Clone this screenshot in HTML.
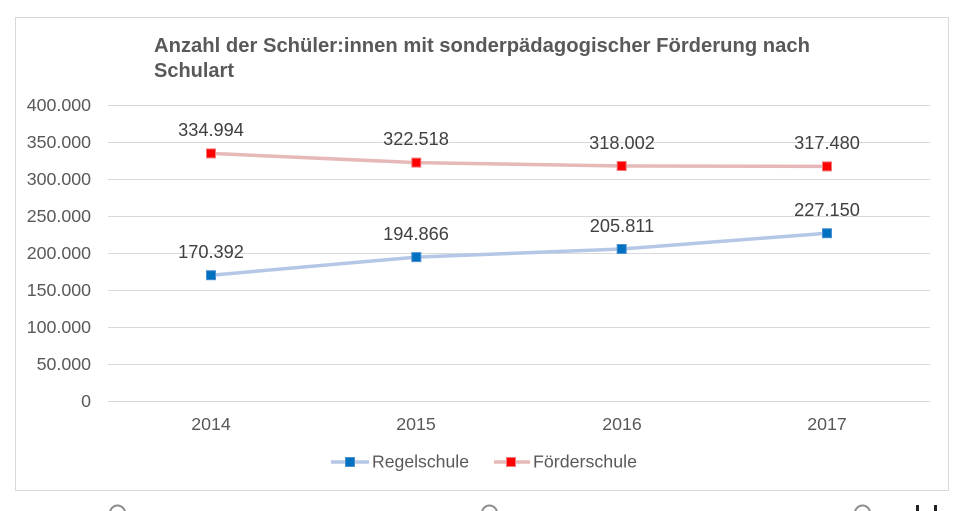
<!DOCTYPE html>
<html>
<head>
<meta charset="utf-8">
<style>
  html,body{margin:0;padding:0;background:#fff;}
  body{width:975px;height:511px;overflow:hidden;}
  svg{display:block;}
  text{font-family:"Liberation Sans", Arial, sans-serif;}
</style>
</head>
<body>
<svg width="975" height="511" viewBox="0 0 975 511" xmlns="http://www.w3.org/2000/svg">
  <rect x="0" y="0" width="975" height="511" fill="#fff"/>
  <!-- chart frame -->
  <rect x="15.5" y="17.5" width="933" height="473" fill="#fff" stroke="#d9d9d9" stroke-width="1"/>

  <!-- title -->
  <text x="154" y="52" font-size="20" font-weight="bold" fill="#595959" textLength="656" lengthAdjust="spacingAndGlyphs">Anzahl der Schüler:innen mit sonderpädagogischer Förderung nach</text>
  <text x="154" y="77" font-size="20" font-weight="bold" fill="#595959" textLength="80" lengthAdjust="spacingAndGlyphs">Schulart</text>

  <!-- gridlines -->
  <g stroke="#d9d9d9" stroke-width="1">
    <line x1="108" y1="105.5" x2="930" y2="105.5"/>
    <line x1="108" y1="142.5" x2="930" y2="142.5"/>
    <line x1="108" y1="179.5" x2="930" y2="179.5"/>
    <line x1="108" y1="216.5" x2="930" y2="216.5"/>
    <line x1="108" y1="253.5" x2="930" y2="253.5"/>
    <line x1="108" y1="290.5" x2="930" y2="290.5"/>
    <line x1="108" y1="327.5" x2="930" y2="327.5"/>
    <line x1="108" y1="364.5" x2="930" y2="364.5"/>
    <line x1="108" y1="401.5" x2="930" y2="401.5"/>
  </g>

  <!-- y axis labels -->
  <g font-size="17.8" fill="#595959" text-anchor="end">
    <text x="91" y="111">400.000</text>
    <text x="91" y="148">350.000</text>
    <text x="91" y="185">300.000</text>
    <text x="91" y="222">250.000</text>
    <text x="91" y="259">200.000</text>
    <text x="91" y="296">150.000</text>
    <text x="91" y="333">100.000</text>
    <text x="91" y="370">50.000</text>
    <text x="91" y="407">0</text>
  </g>

  <!-- x axis labels -->
  <g font-size="17.8" fill="#595959" text-anchor="middle">
    <text x="211" y="430">2014</text>
    <text x="416" y="430">2015</text>
    <text x="622" y="430">2016</text>
    <text x="827" y="430">2017</text>
  </g>

  <!-- Förderschule series -->
  <polyline points="211,153.4 416.3,162.6 621.7,166 827,166.4" fill="none" stroke="#e6b9b8" stroke-width="3.5" stroke-linejoin="round"/>
  <g fill="#ff0000" stroke="#f27a7a" stroke-width="1">
    <rect x="206.5" y="148.9" width="9" height="9"/>
    <rect x="411.8" y="158.1" width="9" height="9"/>
    <rect x="617.2" y="161.5" width="9" height="9"/>
    <rect x="822.5" y="161.9" width="9" height="9"/>
  </g>

  <!-- Regelschule series -->
  <polyline points="211,275.2 416.3,257.1 621.7,249 827,233.2" fill="none" stroke="#b4c7e7" stroke-width="3.5" stroke-linejoin="round"/>
  <g fill="#0070c0" stroke="#4f8fcf" stroke-width="1">
    <rect x="206.5" y="270.7" width="9" height="9"/>
    <rect x="411.8" y="252.6" width="9" height="9"/>
    <rect x="617.2" y="244.5" width="9" height="9"/>
    <rect x="822.5" y="228.7" width="9" height="9"/>
  </g>

  <!-- data labels -->
  <g font-size="18.2" fill="#404040" text-anchor="middle">
    <text x="211" y="136">334.994</text>
    <text x="416" y="145">322.518</text>
    <text x="622" y="149">318.002</text>
    <text x="827" y="149">317.480</text>
    <text x="211" y="258">170.392</text>
    <text x="416" y="240">194.866</text>
    <text x="622" y="232">205.811</text>
    <text x="827" y="216">227.150</text>
  </g>

  <!-- legend -->
  <line x1="331" y1="462" x2="369" y2="462" stroke="#b4c7e7" stroke-width="3.5"/>
  <rect x="345.5" y="457.5" width="9" height="9" fill="#0070c0" stroke="#4f8fcf" stroke-width="1"/>
  <text x="372" y="467.5" font-size="17.6" fill="#595959" textLength="97" lengthAdjust="spacingAndGlyphs">Regelschule</text>
  <line x1="494" y1="462" x2="530" y2="462" stroke="#e6b9b8" stroke-width="3.5"/>
  <rect x="506.5" y="457.5" width="9" height="9" fill="#ff0000" stroke="#f27a7a" stroke-width="1"/>
  <text x="533" y="467.5" font-size="17.6" fill="#595959" textLength="104" lengthAdjust="spacingAndGlyphs">Förderschule</text>

  <!-- partial handles at bottom -->
  <g fill="none" stroke="#8c8c8c" stroke-width="2">
    <circle cx="117.5" cy="513" r="7.5"/>
    <circle cx="489.5" cy="513" r="7.5"/>
    <circle cx="862.5" cy="513" r="7.5"/>
  </g>
  <rect x="916" y="505" width="3" height="6" fill="#222"/>
  <rect x="934" y="505" width="3" height="6" fill="#222"/>
</svg>
</body>
</html>
